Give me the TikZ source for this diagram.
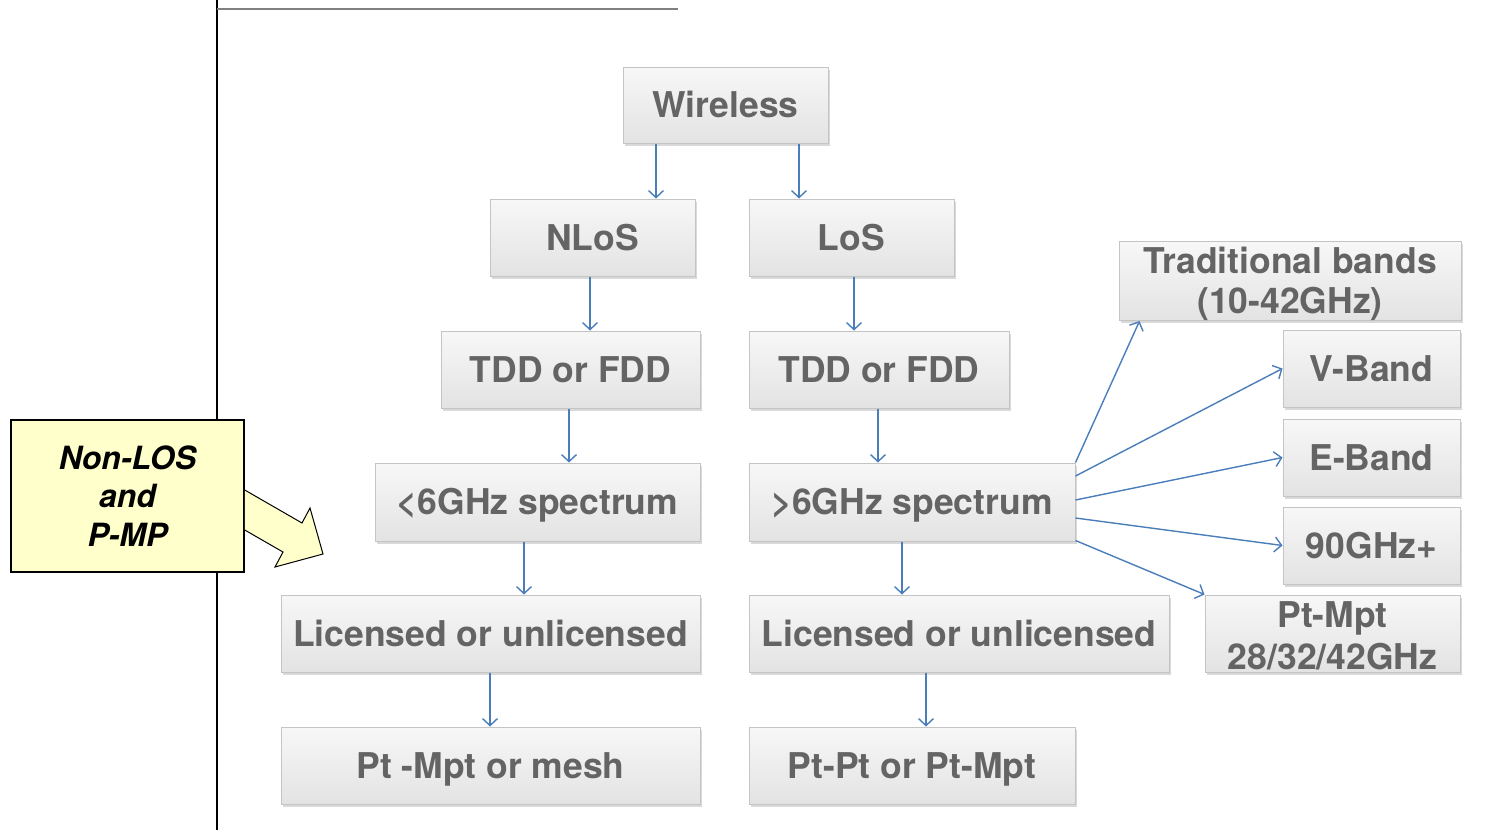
\documentclass[tikz,border=0pt]{standalone}
\usepackage{fontspec}
\setmainfont{TeX Gyre Heros}
\usetikzlibrary{arrows.meta,calc,shadows}
\definecolor{boxtext}{HTML}{646464}
\definecolor{boxline}{HTML}{C4C4C4}
\definecolor{linkblue}{HTML}{4A7EBB}
\definecolor{notefill}{HTML}{FFFFCC}
\begin{document}
\begin{tikzpicture}[x=1pt,y=-1pt,
  box/.style={draw=boxline, line width=1pt, top color=white!97!black, bottom color=black!11,
    drop shadow={shadow xshift=2pt, shadow yshift=-2.5pt, opacity=0.25, fill=black!60},
    inner sep=0pt, align=center, text=boxtext,
    font=\bfseries\fontsize{35.5}{41}\selectfont},
  oneline/.style={box, text height=25.5pt, text depth=0pt},
  link/.style={draw=linkblue, line width=1.4pt, -{Straight Barb[length=7pt,width=15pt]}},
]
\useasboundingbox (0,0) rectangle (1503,830);

% page rules
\draw[line width=2pt, black] (217,0) -- (217,830);
\draw[line width=1.6pt, black!50] (217,9) -- (678,9);

% left branch
\node[oneline, minimum width=205, minimum height=76] (w) at (725.5,105) {Wireless};
\node[oneline, minimum width=205, minimum height=77] (nlos) at (592.5,237.5) {NLoS};
\node[oneline, minimum width=205, minimum height=77] (los) at (851.5,237.5) {LoS};
\node[oneline, minimum width=259, minimum height=77] (tddl) at (570.5,369.5) {TDD or FDD};
\node[oneline, minimum width=260, minimum height=77] (tddr) at (879,369.5) {TDD or FDD};
\node[oneline, minimum width=325, minimum height=78] (low) at (537.5,502) {\textless6GHz spectrum};
\node[oneline, minimum width=326, minimum height=78] (high) at (912,502) {\textgreater6GHz spectrum};
\node[oneline, minimum width=419, minimum height=77] (licl) at (490.5,633.5) {Licensed or unlicensed};
\node[oneline, minimum width=420, minimum height=77] (licr) at (959,633.5) {Licensed or unlicensed};
\node[oneline, minimum width=419, minimum height=77] (ptl) at (490.5,765.5) {Pt -Mpt or mesh};
\node[oneline, minimum width=326, minimum height=77] (ptr) at (912,765.5) {Pt-Pt or Pt-Mpt};

% band boxes
\node[box, minimum width=342, minimum height=78, font=\bfseries\fontsize{35.5}{40}\selectfont] (trad) at (1290,281) {\rule{0pt}{32pt}Traditional bands\\(10-42GHz)};
\node[oneline, minimum width=177, minimum height=77] (vb) at (1371.5,368.5) {V-Band};
\node[oneline, minimum width=177, minimum height=77] (eb) at (1371.5,457.5) {E-Band};
\node[oneline, minimum width=177, minimum height=77] (nb) at (1371.5,545.5) {90GHz+};
\node[box, minimum width=255, minimum height=77, font=\bfseries\fontsize{35.5}{42}\selectfont] (pm) at (1332.5,633.5) {\rule{0pt}{30pt}Pt-Mpt\\28/32/42GHz};

% vertical links
\draw[link] ($(w.south)+(-69.5,0)$) -- ($(nlos.north)+(63.5,0)$);
\draw[link] ($(w.south)+(73.5,0)$) -- ($(los.north)+(-52.5,0)$);
\draw[link] ($(nlos.south)+(-2.5,0)$) -- ($(tddl.north)+(19.5,0)$);
\draw[link] ($(los.south)+(2.5,0)$) -- ($(tddr.north)+(-25,0)$);
\draw[link] ($(tddl.south)+(-1.5,0)$) -- ($(low.north)+(31.5,0)$);
\draw[link] ($(tddr.south)+(-1,0)$) -- ($(high.north)+(-34,0)$);
\draw[link] ($(low.south)+(-13.5,0)$) -- ($(licl.north)+(33.5,0)$);
\draw[link] ($(high.south)+(-10,0)$) -- ($(licr.north)+(-57,0)$);
\draw[link] ($(licl.south)+(-0.5,0)$) -- ($(ptl.north)+(-0.5,0)$);
\draw[link] ($(licr.south)+(-33,0)$) -- ($(ptr.north)+(14,0)$);

% fan of links to the bands
\draw[link] (high.north east) -- ($(trad.south west)+(21,0)$);
\draw[link] ($(high.east)+(0,-26)$) -- (vb.west);
\draw[link] ($(high.east)+(0,-2)$) -- (eb.west);
\draw[link] ($(high.east)+(0,16)$) -- (nb.west);
\draw[link] ($(high.south east)+(0,-1)$) -- (pm.north west);

% note with block arrow
\node[draw=black, line width=1.5pt, fill=notefill, minimum width=233, minimum height=152,
  inner sep=0pt, align=center, font=\bfseries\itshape\fontsize{32}{38.5}\selectfont]
  (note) at (127.5,496) {Non-LOS\\and\\P-MP};
\draw[line width=1pt, fill=notefill] ($(note.east)+(0,-6)$) -- (302,523) -- (310,508) -- (323,554)
  -- (275,567) -- (283,552) -- ($(note.east)+(0,34)$);
\end{tikzpicture}
\end{document}
